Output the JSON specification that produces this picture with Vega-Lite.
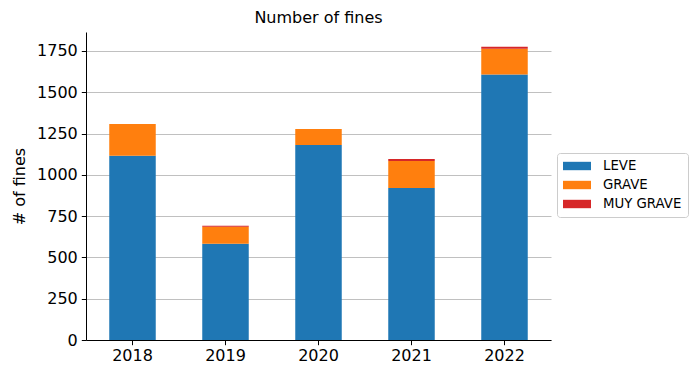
{
  "$schema": "https://vega.github.io/schema/vega-lite/v6.json",
  "autosize": "none",
  "width": 465,
  "height": 308,
  "padding": {"left": 86, "top": 32, "right": 148, "bottom": 38},
  "background": "white",
  "title": {"text": "Number of fines", "font": "DejaVu Sans", "fontSize": 16, "fontWeight": "normal", "color": "black", "offset": 6},
  "config": {
    "view": {"stroke": null},
    "font": "DejaVu Sans"
  },
  "data": {
    "values": [
      {"year": "2018", "type": "LEVE", "ord": 1, "n": 1116},
      {"year": "2018", "type": "GRAVE", "ord": 2, "n": 192},
      {"year": "2018", "type": "MUY GRAVE", "ord": 3, "n": 0},
      {"year": "2019", "type": "LEVE", "ord": 1, "n": 583},
      {"year": "2019", "type": "GRAVE", "ord": 2, "n": 103},
      {"year": "2019", "type": "MUY GRAVE", "ord": 3, "n": 6},
      {"year": "2020", "type": "LEVE", "ord": 1, "n": 1181},
      {"year": "2020", "type": "GRAVE", "ord": 2, "n": 97},
      {"year": "2020", "type": "MUY GRAVE", "ord": 3, "n": 0},
      {"year": "2021", "type": "LEVE", "ord": 1, "n": 920},
      {"year": "2021", "type": "GRAVE", "ord": 2, "n": 164},
      {"year": "2021", "type": "MUY GRAVE", "ord": 3, "n": 12},
      {"year": "2022", "type": "LEVE", "ord": 1, "n": 1607},
      {"year": "2022", "type": "GRAVE", "ord": 2, "n": 157},
      {"year": "2022", "type": "MUY GRAVE", "ord": 3, "n": 12}
    ]
  },
  "mark": {"type": "bar"},
  "encoding": {
    "x": {
      "field": "year", "type": "nominal",
      "scale": {"paddingInner": 0.5, "paddingOuter": 0.25},
      "axis": {"title": null, "labelAngle": 0, "labelFontSize": 16, "labelColor": "black", "domainColor": "black", "tickColor": "black", "tickSize": 4.7, "labelPadding": 3, "grid": false}
    },
    "y": {
      "field": "n", "type": "quantitative", "stack": "zero",
      "scale": {"domain": [0, 1865], "nice": false},
      "axis": {"title": "# of fines", "titleFontSize": 16, "titleFontWeight": "normal", "titleColor": "black", "titlePadding": 9,
               "values": [0, 250, 500, 750, 1000, 1250, 1500, 1750], "format": "d",
               "labelFontSize": 16, "labelColor": "black", "domainColor": "black", "tickColor": "black", "tickSize": 4.7, "labelPadding": 4,
               "grid": true, "gridColor": "#b0b0b0", "gridWidth": 0.8}
    },
    "color": {
      "field": "type", "type": "nominal",
      "scale": {"domain": ["LEVE", "GRAVE", "MUY GRAVE"], "range": ["#1f77b4", "#ff7f0e", "#d62728"]},
      "legend": {"title": null, "orient": "none", "legendX": 471, "legendY": 121,
                 "symbolType": "M-2,-0.6L2,-0.6L2,0.6L-2,0.6Z", "symbolSize": 196, "symbolStrokeWidth": 0, "symbolOffset": 7,
                 "labelFontSize": 13.3, "labelColor": "black", "labelOffset": 19,
                 "strokeColor": "#cccccc", "fillColor": "white", "cornerRadius": 3, "padding": 6, "rowPadding": 5}
    },
    "order": {"field": "ord", "type": "quantitative"}
  }
}
